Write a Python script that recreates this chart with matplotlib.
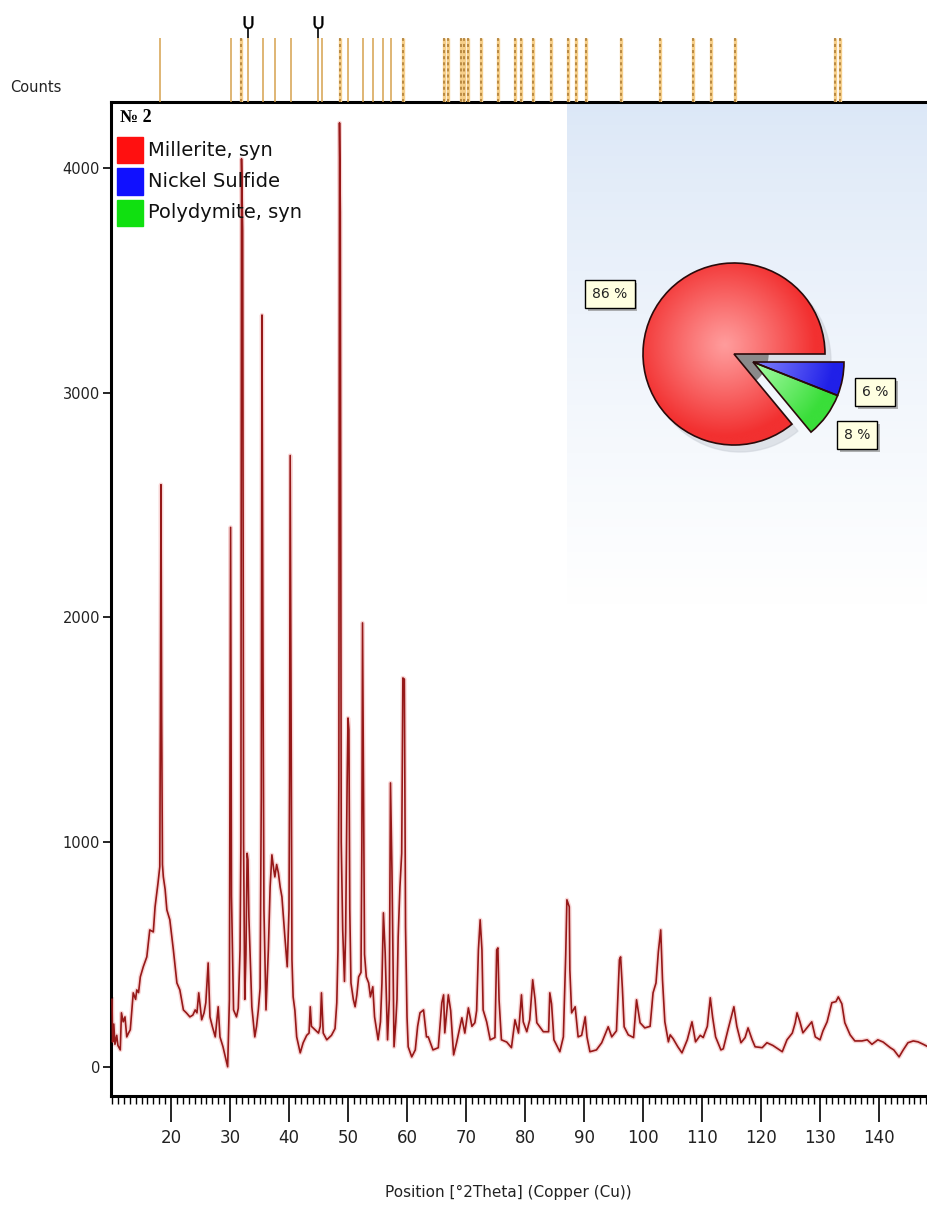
import numpy as np
import matplotlib.pyplot as plt
import matplotlib.colors as mcolors
import matplotlib.patheffects as pe
from matplotlib.patches import Rectangle, Wedge
from matplotlib.ticker import MultipleLocator

# XRD scan, values (2theta in degrees, counts)
two_theta = [10.0, 10.1, 10.3, 10.5, 10.8, 11.0, 11.4, 11.6, 11.9, 12.2, 12.5, 12.8, 13.1, 13.4,
             13.6, 14.0, 14.2, 14.5, 14.8, 15.3, 15.9, 16.4, 17.0, 17.3, 17.8, 18.1, 18.2, 18.3,
             18.42, 18.55, 18.7, 19.0, 19.3, 19.8, 20.4, 21.0, 21.5, 22.1, 22.6, 23.2, 23.7, 24.1,
             24.4, 24.7, 25.2, 25.6, 25.9, 26.3, 26.6, 27.0, 27.5, 28.0, 28.3, 28.8, 29.2, 29.6,
             29.9, 30.0, 30.1, 30.25, 30.6, 31.1, 31.4, 31.7, 31.85, 31.95, 32.15, 32.3, 32.5, 32.7,
             32.9, 33.05, 33.2, 33.7, 34.2, 34.5, 34.8, 35.1, 35.3, 35.42, 35.6, 35.75, 36.1, 36.5,
             36.8, 37.1, 37.4, 37.6, 37.9, 38.2, 38.5, 38.8, 39.3, 39.7, 40.0, 40.1, 40.2, 40.35,
             40.5, 40.7, 41.0, 41.3, 41.9, 42.4, 43.0, 43.4, 43.6, 43.8, 44.4, 45.0, 45.3, 45.5,
             45.8, 46.4, 47.2, 47.8, 48.1, 48.3, 48.45, 48.56, 48.7, 48.85, 49.1, 49.4, 49.6, 49.85,
             50.0, 50.15, 50.3, 50.5, 50.9, 51.2, 51.5, 51.8, 52.2, 52.35, 52.46, 52.6, 52.8, 53.1,
             53.5, 53.8, 54.2, 54.5, 55.1, 55.5, 55.75, 56.0, 56.3, 56.7, 57.0, 57.2, 57.45, 57.8,
             58.1, 58.3, 58.5, 58.8, 59.1, 59.3, 59.55, 59.75, 60.0, 60.2, 60.8, 61.4, 61.8, 62.2,
             62.8, 63.3, 63.6, 64.4, 65.3, 65.9, 66.2, 66.4, 67.0, 67.4, 67.9, 68.4, 69.3, 69.8,
             70.4, 71.0, 71.5, 71.8, 72.1, 72.4, 72.7, 72.9, 73.5, 74.1, 74.9, 75.2, 75.4, 75.6,
             76.0, 76.9, 77.7, 78.3, 78.9, 79.4, 79.7, 80.3, 80.8, 81.3, 81.7, 82.0, 83.1, 84.0,
             84.2, 84.5, 84.9, 85.9, 86.5, 86.9, 87.1, 87.5, 87.6, 87.9, 88.5, 89.0, 89.6, 90.2,
             90.5, 91.0, 92.1, 93.0, 94.1, 94.7, 95.5, 96.0, 96.2, 96.5, 96.8, 97.5, 98.4, 98.9,
             99.5, 100.3, 101.2, 101.7, 102.2, 102.6, 103.0, 103.3, 103.7, 104.3, 104.6, 105.1, 105.9, 106.6,
             107.5, 108.3, 108.9, 109.7, 110.2, 110.9, 111.4, 111.8, 112.3, 113.2, 113.6, 114.4, 115.4, 115.9,
             116.6, 117.3, 117.8, 118.5, 119.0, 120.2, 121.0, 122.0, 123.6, 124.4, 125.3, 125.8, 126.1, 126.6,
             127.1, 128.0, 128.6, 129.2, 130.0, 130.5, 131.2, 132.0, 132.7, 133.1, 133.7, 134.2, 135.1, 135.9,
             137.1, 138.0, 138.8, 139.8, 140.7, 141.9, 142.5, 143.4, 144.1, 144.9, 145.8, 146.6, 147.5, 148.3]
counts = [300, 110, 190, 100, 140, 95, 75, 240, 200, 222, 133, 150, 165, 260,
          329, 300, 342, 330, 400, 445, 489, 609, 600, 712, 818, 890, 1550, 2590,
          1550, 900, 845, 790, 698, 654, 520, 373, 342, 253, 240, 222, 230, 253,
          240, 329, 209, 240, 285, 462, 222, 180, 133, 267, 133, 90, 44, 0,
          300, 1334, 2400, 760, 253, 222, 260, 520, 1000, 4040, 3720, 1000, 300, 500,
          950, 920, 667, 267, 133, 180, 253, 350, 1200, 3345, 1710, 700, 253, 520,
          800, 943, 880, 845, 900, 863, 800, 756, 578, 445, 700, 1300, 2720, 1660,
          476, 311, 250, 133, 62, 107, 140, 150, 267, 180, 165, 150, 180, 329,
          150, 120, 140, 170, 285, 520, 1260, 4200, 3800, 1000, 610, 380, 600, 1260,
          1552, 1500, 700, 373, 300, 267, 320, 400, 420, 1000, 1975, 1388, 500, 400,
          373, 311, 356, 222, 120, 200, 373, 685, 507, 120, 300, 1263, 870, 89,
          200, 300, 578, 800, 950, 1730, 1725, 622, 222, 89, 44, 75, 180, 240,
          253, 133, 133, 75, 85, 285, 320, 151, 320, 250, 53, 107, 218, 150,
          262, 180, 196, 250, 520, 654, 520, 253, 200, 120, 130, 520, 529, 298,
          120, 110, 85, 209, 150, 320, 200, 156, 209, 387, 300, 196, 156, 156,
          329, 280, 120, 67, 133, 500, 743, 712, 431, 240, 267, 133, 140, 222,
          133, 67, 75, 107, 178, 133, 160, 476, 489, 350, 178, 142, 130, 298,
          196, 173, 180, 329, 373, 512, 609, 387, 200, 111, 142, 125, 89, 62,
          120, 200, 111, 140, 130, 180, 307, 220, 133, 75, 80, 165, 267, 180,
          107, 130, 173, 120, 89, 85, 107, 95, 67, 120, 150, 196, 240, 200,
          151, 180, 200, 133, 120, 160, 200, 285, 290, 311, 280, 196, 142, 115,
          115, 120, 100, 120, 110, 85, 75, 44, 75, 107, 115, 111, 100, 89]

# reference pattern sticks above the plot
ref_solid = [18.1, 30.2, 33.05, 35.6, 37.6, 40.3, 44.9, 45.6, 50.0, 52.5, 54.2, 55.9, 57.3]
ref_dotted = [31.9, 48.6, 59.3, 66.3, 66.9, 69.2, 69.7, 70.3, 72.5, 75.4, 78.3, 79.3, 81.4,
              84.4, 87.3, 88.6, 90.3, 96.3, 102.9, 108.5, 111.5, 115.6, 132.5, 133.4]
ref_marked = [33.05, 44.9]

# phase composition
phases = ['Millerite, syn', 'Nickel Sulfide', 'Polydymite, syn']
phase_colors = ['#ff1010', '#1010ff', '#10e010']
phase_share = [86, 6, 8]

W, H = 928, 1207
def fx(px):
    return px / W
def fy(py):
    return 1 - py / H

plt.rcParams['font.family'] = ['DejaVu Sans']
fig = plt.figure(figsize=(W / 100, H / 100), dpi=100)
fig.patch.set_facecolor('white')

# main plot
ax = fig.add_axes([fx(111), fy(1096), fx(928) - fx(111), fy(102) - fy(1096)])
ax.set_facecolor('none')

# light blue panel behind the pie
grad = np.linspace(0, 1, 256)[:, None, None] ** 0.8
top_c = np.array(mcolors.to_rgb('#dbe7f7'))
bot_c = np.array(mcolors.to_rgb('#ffffff'))
panel = top_c + (bot_c - top_c) * grad
ax.imshow(panel, extent=[0.558, 1.0, 0.494, 1.0], transform=ax.transAxes,
          aspect='auto', zorder=0, interpolation='bilinear')

ax.plot(two_theta, counts, color='#f4bcbc', lw=3.2, alpha=0.6, zorder=2)
ax.plot(two_theta, counts, color='#961818', lw=1.2, zorder=3)

ax.set_xlim(9.83, 148.3)
ax.set_ylim(-130, 4293)
ax.set_xticks(range(20, 141, 10))
ax.xaxis.set_minor_locator(MultipleLocator(1))
ax.set_yticks([0, 1000, 2000, 3000, 4000])
ax.tick_params(axis='x', which='major', length=19, width=1.2, labelsize=12, pad=5,
               labelcolor='#222222')
ax.tick_params(axis='x', which='minor', length=5.5, width=1)
ax.tick_params(axis='y', length=6, width=1.2, labelsize=10.5, pad=2, labelcolor='#222222')
for s in ['top', 'left', 'bottom']:
    ax.spines[s].set_linewidth(2.2)
ax.spines['right'].set_visible(False)

fig.text(fx(508), fy(1192), 'Position [°2Theta] (Copper (Cu))', fontsize=11,
         ha='center', va='center', color='#222222')
fig.text(fx(10), fy(88), 'Counts', fontsize=10.5, ha='left', va='center', color='#222222')

# reference sticks
tax = fig.add_axes([fx(111), fy(102), fx(928) - fx(111), 97 / H])
tax.set_xlim(ax.get_xlim())
tax.set_ylim(0, 97)
tax.axis('off')
tax.vlines(ref_solid, 0, 64, color='#d6a24e', lw=1.1)
tax.vlines(ref_dotted, 0, 64, color='#f6cf8a', lw=2.4)
tax.vlines(ref_dotted, 0, 64, color='#a8772f', lw=1.1, linestyles=(0, (2, 2)))
tax.vlines(ref_marked, 64, 74, color='black', lw=1.2)
tax.plot(ref_marked, np.full(len(ref_marked), 80), ls='none', marker=r'$\mathsf{U}$',
         ms=9, color='black', mew=0.3)

# legend
fig.text(fx(120), fy(118), '№ 2', family='Liberation Serif', weight='bold',
         fontsize=13, ha='left', va='center')
for i, (name, col) in enumerate(zip(phases, phase_colors)):
    yc = 150 + 31.5 * i
    fig.patches.append(Rectangle((fx(117), fy(yc + 13)), 26 / W, 26 / H,
                                 transform=fig.transFigure, color=col))
    fig.text(fx(148), fy(yc), name, fontsize=14, ha='left', va='center', color='#111111')

# pie chart of phase shares
pax = fig.add_axes([fx(734 - 180), fy(354 + 180), 360 / W, 360 / H])
order = [0, 2, 1]
wedges, _ = pax.pie([phase_share[i] for i in order],
                    colors=[phase_colors[i] for i in order],
                    startangle=0, counterclock=True, radius=91, center=(0, 0),
                    wedgeprops=dict(edgecolor='#2a0a0a', lw=1.2))
pax.set_xlim(-180, 180)
pax.set_ylim(-180, 180)
pax.set_aspect('equal')
pax.axis('off')
for w in wedges[1:]:
    w.set_center((19, -8))

# drop shadow and the gray gap
t_red = wedges[0].theta2
pax.add_patch(Wedge((6, -7), 91, 0, t_red, color='#c9ced6', alpha=0.5, zorder=0))
pax.add_patch(Wedge((0, 0), 34, t_red, 360, color='#8a8a8a', zorder=0.5))

shade = {'#ff1010': ('#ff9c9c', '#f23030'),
         '#1010ff': ('#8c8cff', '#2020e8'),
         '#10e010': ('#b4ffb4', '#3ade3a')}
yy, xx = np.mgrid[-1:1:300j, -1:1:300j]
dist = np.clip(np.hypot(xx + 0.1, yy - 0.1), 0, 1)[..., None]
for w, i in zip(wedges, order):
    inner, outer = shade[phase_colors[i]]
    c0 = np.array(mcolors.to_rgb(inner))
    c1 = np.array(mcolors.to_rgb(outer))
    img = c0 + (c1 - c0) * dist ** 1.1
    cx, cy = w.center
    im = pax.imshow(img, extent=[cx - 91, cx + 91, cy - 91, cy + 91], origin='lower',
                    zorder=1.5, interpolation='bilinear')
    im.set_clip_path(w)
    w.set_facecolor('none')
    w.set_zorder(2)
pax.set_xlim(-180, 180)
pax.set_ylim(-180, 180)

label_xy = [(-124, 60), (141, -38), (123, -81)]
for share, (lx, ly) in zip(phase_share, label_xy):
    t = pax.text(lx, ly, f'{share} %', fontsize=10, ha='center', va='center', zorder=5,
                 color='#222222',
                 bbox=dict(boxstyle='square,pad=0.5', fc='#ffffe1', ec='black', lw=1))
    t.get_bbox_patch().set_path_effects([pe.withSimplePatchShadow(offset=(2, -2),
                                          shadow_rgbFace='#808080', alpha=0.6)])

fig.savefig('out.png', dpi=100)
